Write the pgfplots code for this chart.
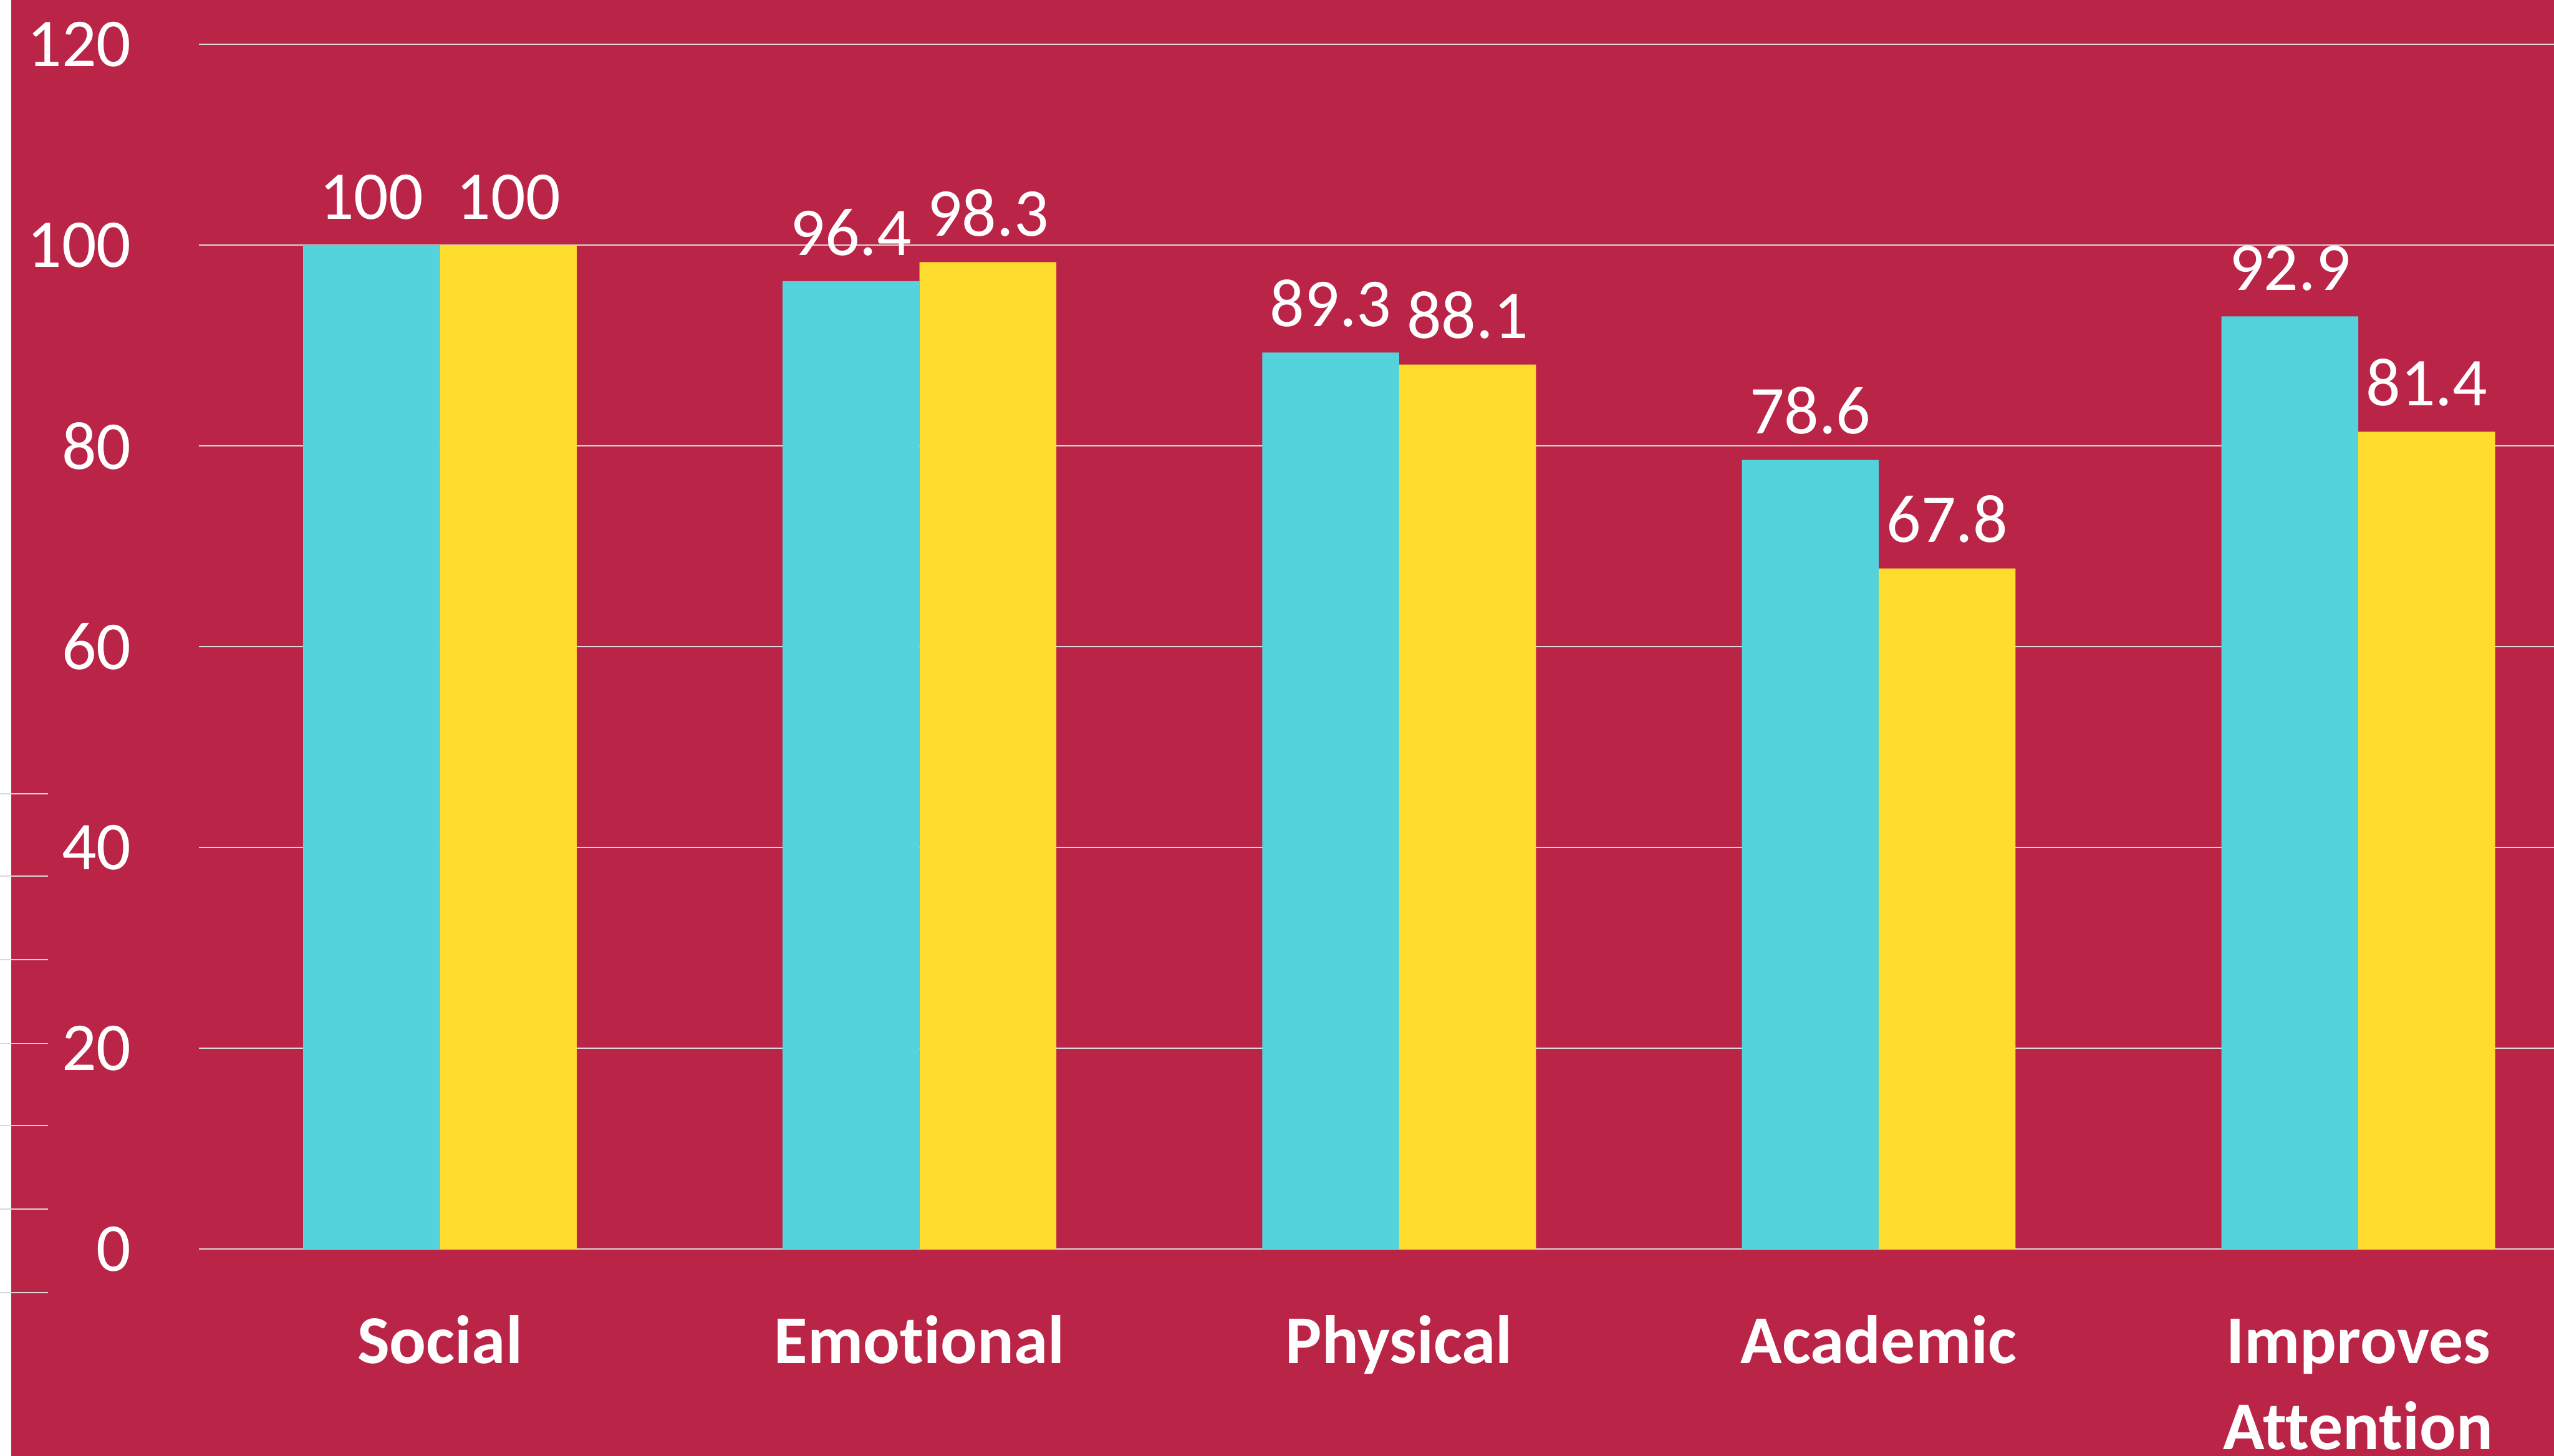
\documentclass[border=0pt]{standalone}
\usepackage{pgfplots}
\pgfplotsset{compat=1.18}
\usepackage{fontspec}
\setmainfont{Carlito}[Ligatures=NoCommon]

\definecolor{bgred}{HTML}{BA2446}
\definecolor{barcyan}{HTML}{55D3DC}
\definecolor{baryellow}{HTML}{FFDD2E}
\definecolor{gridgray}{HTML}{D9D9D9}

\begin{document}
\begin{tikzpicture}
  % slide background with the thin white strip at the left
  \fill[bgred] (2.5pt,0pt) rectangle (578.6pt,329.8pt);
  % stray short rules at the far left of the slide
  \foreach \yy in {150.0,131.3,112.4,93.4,74.8,55.9,37.0}
    \draw[gridgray, line width=0.25pt] (0pt,\yy pt) -- (10.9pt,\yy pt);

  \begin{axis}[
    at={(45pt,46.8pt)}, anchor=south west,
    scale only axis,
    width=533.6pt, height=283pt,
    xmin=-0.503, xmax=4.408,
    ymin=0, ymax=124.4,
    clip=false,
    axis line style={draw=none},
    major tick length=0pt,
    ytick={0,20,...,120},
    ymajorgrids,
    grid style={gridgray, line width=0.3pt},
    xtick={0,1,2,3,4},
    xticklabels={Social,Emotional,Physical,Academic,
      {\begin{tabular}[t]{@{}c@{}}Improves\\Attention\end{tabular}}},
    /pgf/number format/assume math mode=true,
    tick label style={white},
    yticklabel style={font=\fontsize{15.5}{18}\selectfont, anchor=east, inner sep=0pt, xshift=-15.1pt},
    xticklabel style={font=\fontsize{15.5}{19.5}\selectfont\bfseries, anchor=base, inner sep=0pt, yshift=-25.8pt},
    ybar, bar width=31pt,
    nodes near coords,
    every node near coord/.append style={
      font=\fontsize{15.5}{18}\selectfont,
      text=white,
      anchor=south,
      inner sep=0pt,
      yshift=5.6pt
    },
  ]
    \addplot[fill=barcyan, draw=none, bar shift=-15.5pt]
      coordinates {(0,100) (1,96.4) (2,89.3) (3,78.6) (4,92.9)};
    \addplot[fill=baryellow, draw=none, bar shift=15.5pt]
      coordinates {(0,100) (1,98.3) (2,88.1) (3,67.8) (4,81.4)};
  \end{axis}

  \pgfresetboundingbox
  \path[use as bounding box] (0pt,0pt) rectangle (578.6pt,329.8pt);
\end{tikzpicture}
\end{document}
